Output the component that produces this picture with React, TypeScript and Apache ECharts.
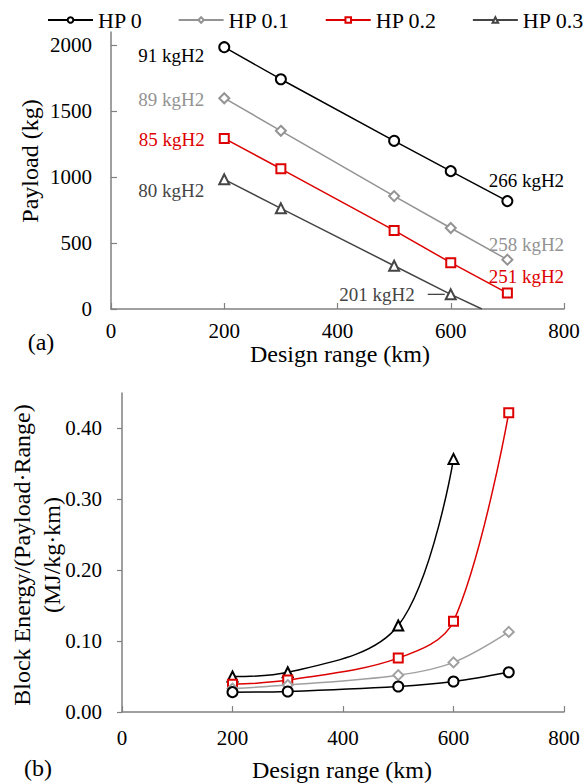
import { useEffect, useRef } from 'react';
import * as echarts from 'echarts';

const FONT = '"Liberation Serif", "Times New Roman", serif';

const seriesNames = ['HP 0', 'HP 0.1', 'HP 0.2', 'HP 0.3'];
const rangesKm = [200, 300, 500, 600, 700];

// (a) payload (kg) against design range
const payloadHP0 = [1985, 1742, 1275, 1045, 818];
const payloadHP01 = [1598, 1351, 856, 614, 374];
const payloadHP02 = [1293, 1063, 596, 351, 121];
const payloadHP03 = [983, 763, 328, 111];
// range where the HP 0.3 payload line runs out to zero
const zeroPayloadRangeHP03 = 655;

// hydrogen mass at the shortest and longest design range
const h2AtMinRange = ['91 kgH2', '89 kgH2', '85 kgH2', '80 kgH2'];
const h2AtMaxRange = ['266 kgH2', '258 kgH2', '251 kgH2', '201 kgH2'];

// (b) block energy / (payload · range), MJ/kg·km
const energyHP0 = [0.028, 0.029, 0.036, 0.043, 0.056];
const energyHP01 = [0.033, 0.038, 0.052, 0.07, 0.113];
const energyHP02 = [0.039, 0.045, 0.076, 0.128, 0.422];
const energyHP03 = [0.05, 0.056, 0.122, 0.357];

const rangeTicks = [0, 200, 400, 600, 800];
const payloadTicks = [0, 500, 1000, 1500, 2000];
const energyTicks = [0, 0.1, 0.2, 0.3, 0.4];

const payloadSets = [payloadHP0, payloadHP01, payloadHP02, payloadHP03];
const energySets = [energyHP0, energyHP01, energyHP02, energyHP03];

const colors = ['#000000', '#939393', '#dd0000', '#454545'];
const symbols = ['emptyCircle', 'emptyDiamond', 'emptyRect', 'emptyTriangle'];
const startLabelShift = [8, 1, 1, 11];
const endLabelShift = [0, 5, 3];

const axisColor = '#808080';

function xAxisFor(gridIndex: number, margin: number) {
  return {
    gridIndex,
    type: 'value',
    min: rangeTicks[0],
    max: rangeTicks[rangeTicks.length - 1],
    interval: rangeTicks[1] - rangeTicks[0],
    axisLine: { show: true, onZero: false, lineStyle: { color: axisColor, width: 1.5 } },
    axisTick: { show: true, inside: true, length: 6, lineStyle: { color: axisColor, width: 1.2 } },
    axisLabel: {
      color: '#000',
      fontSize: 21,
      fontFamily: FONT,
      margin,
      formatter: (v: number) => String(v),
    },
    splitLine: { show: false },
  };
}

function payloadSeries(i: number) {
  const values = payloadSets[i];
  const last = values.length - 1;
  const data: any[] = values.map((v, j) => {
    const item: any = { value: [rangesKm[j], v] };
    const base = { show: true, color: colors[i], fontSize: 19, fontFamily: FONT };
    if (j === 0) {
      item.label = {
        ...base,
        position: 'left',
        distance: 14,
        offset: [0, startLabelShift[i]],
        formatter: h2AtMinRange[i],
      };
    } else if (j === last) {
      if (i < 3) {
        item.label = {
          ...base,
          position: 'top',
          distance: 5,
          offset: [19, endLabelShift[i]],
          formatter: h2AtMaxRange[i],
        };
      } else {
        item.label = {
          ...base,
          position: 'left',
          distance: 0,
          formatter: `{t|${h2AtMaxRange[i]}}{s| }{l| }`,
          rich: {
            t: { color: colors[i], fontSize: 19, fontFamily: FONT },
            s: { width: 13, fontSize: 19 },
            l: { width: 17, height: 1.3, backgroundColor: colors[i], fontSize: 1 },
          },
        };
      }
    }
    return item;
  });
  if (i === 3) {
    data.push({ value: [zeroPayloadRangeHP03, 0], symbol: 'none' });
  }
  return {
    name: seriesNames[i],
    type: 'line',
    xAxisIndex: 0,
    yAxisIndex: 0,
    data,
    symbol: symbols[i],
    symbolSize: i === 2 ? 9 : 10,
    color: colors[i],
    lineStyle: { color: colors[i], width: 1.5 },
    itemStyle: { color: colors[i], borderWidth: 1.6 },
    emphasis: { disabled: true },
    z: 10 - i,
  };
}

function energySeries(i: number) {
  const values = energySets[i];
  const c = i === 3 ? '#000000' : i === 1 ? '#a0a0a0' : colors[i];
  return {
    name: seriesNames[i],
    type: 'line',
    xAxisIndex: 1,
    yAxisIndex: 1,
    data: values.map((v, j) => [rangesKm[j], v]),
    smooth: 0.35,
    symbol: symbols[i],
    symbolSize: i === 2 ? 9 : 10,
    color: c,
    lineStyle: { color: c, width: 1.5 },
    itemStyle: { color: c, borderWidth: 1.4 },
    emphasis: { disabled: true },
    z: 10 - i,
  };
}

export default function App() {
  const ref = useRef<HTMLDivElement>(null);

  useEffect(() => {
    if (!ref.current) return;
    const chart = echarts.init(ref.current, null, { renderer: 'svg' });
    const titleStyle = { fill: '#000', fontSize: 24, fontFamily: FONT, align: 'center', verticalAlign: 'middle' };

    chart.setOption({
      animation: false,
      backgroundColor: '#ffffff',
      textStyle: { fontFamily: FONT },
      legend: {
        left: 42,
        top: 4,
        width: 560,
        itemWidth: 45,
        itemHeight: 7,
        itemGap: 35,
        data: seriesNames,
        textStyle: { color: '#000', fontSize: 22, fontFamily: FONT },
        selectedMode: false,
      },
      grid: [
        { left: 111, top: 32, width: 453, height: 277 },
        { left: 122, top: 393, width: 442, height: 319 },
      ],
      xAxis: [xAxisFor(0, 11), xAxisFor(1, 15)],
      yAxis: [
        {
          gridIndex: 0,
          type: 'value',
          min: 0,
          max: 2100,
          axisLine: { show: true, lineStyle: { color: axisColor, width: 1.5 } },
          axisTick: {
            show: true,
            inside: true,
            length: 6,
            customValues: payloadTicks,
            lineStyle: { color: axisColor, width: 1.2 },
          },
          axisLabel: {
            color: '#000',
            fontSize: 21,
            fontFamily: FONT,
            margin: 19,
            customValues: payloadTicks,
            formatter: (v: number) => String(v),
          },
          splitLine: { show: false },
        },
        {
          gridIndex: 1,
          type: 'value',
          min: 0,
          max: 0.45,
          axisLine: { show: true, lineStyle: { color: axisColor, width: 1.5 } },
          axisTick: {
            show: true,
            inside: false,
            length: 5,
            customValues: energyTicks,
            lineStyle: { color: axisColor, width: 1.2 },
          },
          axisLabel: {
            color: '#000',
            fontSize: 21,
            fontFamily: FONT,
            margin: 20,
            customValues: energyTicks,
            formatter: (v: number) => v.toFixed(2),
          },
          splitLine: { show: false },
        },
      ],
      graphic: [
        { type: 'text', x: 30, y: 161, rotation: Math.PI / 2, style: { ...titleStyle, text: 'Payload (kg)' } },
        { type: 'text', x: 340, y: 354, style: { ...titleStyle, text: 'Design range (km)' } },
        { type: 'text', x: 41, y: 342, style: { ...titleStyle, text: '(a)' } },
        {
          type: 'text',
          x: 37,
          y: 555,
          rotation: Math.PI / 2,
          style: { ...titleStyle, text: 'Block Energy/(Payload·Range)\n(MJ/kg·km)', lineHeight: 30 },
        },
        { type: 'text', x: 342, y: 770, style: { ...titleStyle, text: 'Design range (km)' } },
        { type: 'text', x: 38, y: 768, style: { ...titleStyle, text: '(b)' } },
      ],
      series: [0, 1, 2, 3].map(payloadSeries).concat([0, 1, 2, 3].map(energySeries) as any),
    });

    return () => chart.dispose();
  }, []);

  return <div ref={ref} style={{ position: 'fixed', left: 0, top: 0, width: 587, height: 784 }} />;
}
